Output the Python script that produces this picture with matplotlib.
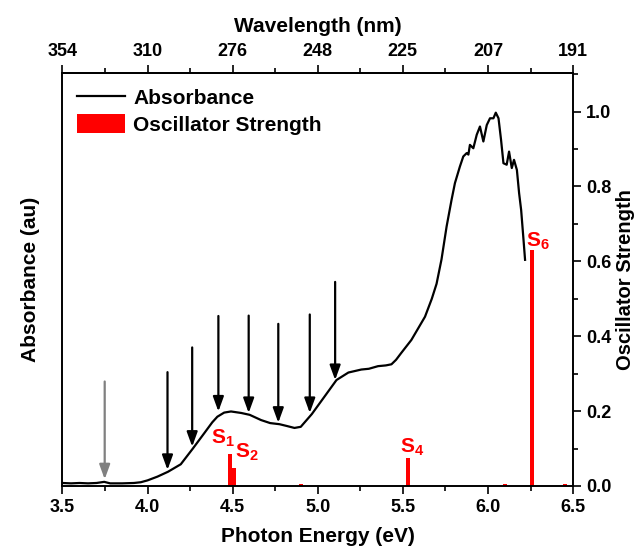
import matplotlib.pyplot as plt
from matplotlib.ticker import MultipleLocator

plt.rcParams['font.family'] = ['Liberation Sans', 'DejaVu Sans']
plt.rcParams['font.weight'] = 'bold'
plt.rcParams['axes.labelweight'] = 'bold'
plt.rcParams['mathtext.fontset'] = 'custom'
plt.rcParams['mathtext.rm'] = 'Liberation Sans:bold'
plt.rcParams['mathtext.bf'] = 'Liberation Sans:bold'
plt.rcParams['axes.linewidth'] = 1.2

# absorbance spectrum (normalised)
abs_energy = [3.50, 3.55, 3.60, 3.65, 3.70, 3.745, 3.78, 3.85, 3.92, 3.96, 4.00,
              4.058, 4.12, 4.195, 4.266, 4.333, 4.38, 4.41, 4.45, 4.49, 4.55,
              4.60, 4.667, 4.72, 4.775, 4.82, 4.863, 4.90, 4.965, 5.04, 5.11,
              5.18, 5.256, 5.30, 5.354, 5.40, 5.433, 5.46, 5.49, 5.55, 5.63,
              5.67, 5.698, 5.727, 5.757, 5.786, 5.806, 5.835, 5.855, 5.875,
              5.885, 5.894, 5.914, 5.934, 5.953, 5.973, 5.993, 6.012, 6.032,
              6.046, 6.062, 6.077, 6.091, 6.11, 6.124, 6.14, 6.153, 6.17,
              6.183, 6.195, 6.209, 6.218]
abs_value = [0.008, 0.007, 0.008, 0.007, 0.008, 0.011, 0.007, 0.007, 0.008, 0.010, 0.015,
             0.025, 0.038, 0.058, 0.100, 0.141, 0.170, 0.185, 0.196, 0.199, 0.195,
             0.190, 0.176, 0.168, 0.165, 0.160, 0.155, 0.158, 0.192, 0.239, 0.283,
             0.303, 0.311, 0.313, 0.320, 0.322, 0.325, 0.337, 0.355, 0.390, 0.452,
             0.500, 0.540, 0.605, 0.693, 0.764, 0.809, 0.853, 0.880, 0.889,
             0.885, 0.911, 0.902, 0.938, 0.960, 0.920, 0.964, 0.982, 0.982,
             0.997, 0.982, 0.924, 0.862, 0.858, 0.893, 0.849, 0.871, 0.844,
             0.782, 0.737, 0.657, 0.604]

# calculated transitions
osc_energy = [4.485, 4.505, 4.90, 5.53, 6.10, 6.26, 6.45]
osc_strength = [0.085, 0.048, 0.005, 0.076, 0.004, 0.63, 0.005]
osc_labels = ['S$_1$', 'S$_2$', 'S$_4$', 'S$_6$']
osc_label_x = [4.44, 4.585, 5.555, 6.292]
osc_label_y = [0.128, 0.09, 0.103, 0.653]

# arrows marking features
arrow_x = [4.117, 4.262, 4.416, 4.594, 4.768, 4.953, 5.102]
arrow_top = [0.304, 0.370, 0.454, 0.455, 0.433, 0.458, 0.545]
arrow_tip = [0.043, 0.105, 0.199, 0.195, 0.169, 0.195, 0.283]
grey_arrow = (3.748, 0.279, 0.018)

energy_ticks = [3.5, 4.0, 4.5, 5.0, 5.5, 6.0, 6.5]
wavelength_labels = ['354', '310', '276', '248', '225', '207', '191']

fig = plt.figure(figsize=(6.39, 5.52), dpi=100)
ax = fig.add_axes([0.0978, 0.1196, 0.799, 0.7482])

ax.plot(abs_energy, abs_value, color='black', lw=1.6, label='Absorbance')
ax.bar(osc_energy, osc_strength, width=0.024, color='red', label='Oscillator Strength')

for t, x, y in zip(osc_labels, osc_label_x, osc_label_y):
    ax.text(x, y, t, color='red', fontsize=15, ha='center', va='center')

astyle = '-|>,head_length=0.55,head_width=0.2'
for x, top, tip in zip(arrow_x, arrow_top, arrow_tip):
    ax.annotate('', xy=(x, tip), xytext=(x, top),
                arrowprops=dict(arrowstyle=astyle, color='black', lw=1.6,
                                mutation_scale=16, shrinkA=0, shrinkB=0))
ax.annotate('', xy=(grey_arrow[0], grey_arrow[2]), xytext=(grey_arrow[0], grey_arrow[1]),
            arrowprops=dict(arrowstyle=astyle, color='grey', lw=1.6,
                            mutation_scale=16, shrinkA=0, shrinkB=0))

ax.set_xlim(3.5, 6.5)
ax.set_ylim(0, 1.103)
ax.set_xticks(energy_ticks)
ax.xaxis.set_minor_locator(MultipleLocator(0.25))
ax.tick_params(axis='x', which='major', direction='out', length=6, width=1.2, labelsize=13)
ax.tick_params(axis='x', which='minor', direction='out', length=3.5, width=1.2)
ax.set_yticks([])
ax.set_xlabel('Photon Energy (eV)', fontsize=15, labelpad=8)
ax.set_ylabel('Absorbance (au)', fontsize=15, labelpad=16)

ax2 = ax.twinx()
ax2.set_ylim(0, 1.103)
ax2.yaxis.set_major_locator(MultipleLocator(0.2))
ax2.yaxis.set_minor_locator(MultipleLocator(0.1))
ax2.tick_params(axis='y', which='major', direction='out', length=6, width=1.2, labelsize=13)
ax2.tick_params(axis='y', which='minor', direction='out', length=3.5, width=1.2)
ax2.set_ylabel('Oscillator Strength', fontsize=14.5, labelpad=3)

top = ax.secondary_xaxis('top')
top.set_xticks(energy_ticks, labels=wavelength_labels)
top.xaxis.set_minor_locator(MultipleLocator(0.25))
top.tick_params(axis='x', which='major', direction='out', length=6, width=1.2, labelsize=13)
top.tick_params(axis='x', which='minor', direction='out', length=3.5, width=1.2)
top.set_xlabel('Wavelength (nm)', fontsize=15, labelpad=8)

ax.legend(loc='upper left', frameon=False, fontsize=15, handlelength=2.3,
          handleheight=1.0, borderaxespad=0.3, labelspacing=0.3, handletextpad=0.4)

fig.savefig('out.png', dpi=100)
